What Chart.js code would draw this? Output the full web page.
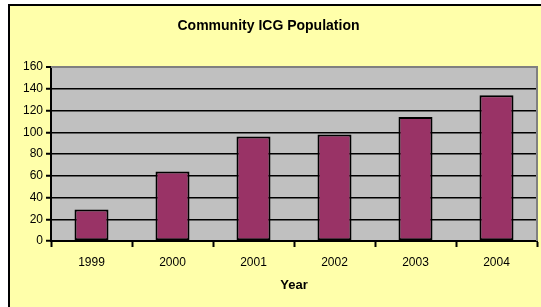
<!DOCTYPE html>
<html>
<head>
<meta charset="utf-8">
<script src="https://cdn.jsdelivr.net/npm/chart.js@4"></script>
<style>
  html, body { margin: 0; padding: 0; background: #fff; }
  #marco {
    position: absolute; left: 8px; top: 4px; width: 540px; height: 310px;
    background: #FFFFAA; border-left: 2px solid #000; border-top: 2px solid #000;
  }
  #wrap { position: absolute; left: 0; top: 0; width: 541px; height: 307px; }
</style>
</head>
<body>
<div id="marco"></div>
<div id="wrap"><canvas id="grafico" width="541" height="307"></canvas></div>
<script>
// Datos
const years = ['1999', '2000', '2001', '2002', '2003', '2004'];
const population = [29, 64, 96, 98, 114, 134];
const yTicks = [0, 20, 40, 60, 80, 100, 120, 140, 160];

// fondo gris del area de trazado + borde gris arriba/derecha
const plotArea = {
    id: 'plotArea',
    beforeDraw(chart) {
        const { ctx, chartArea: a } = chart;
        ctx.save();
        ctx.fillStyle = '#C0C0C0';
        ctx.fillRect(a.left, a.top, a.right - a.left, a.bottom - a.top);
        ctx.restore();
    },
    afterDatasetsDraw(chart) {
        const { ctx, chartArea: a } = chart;
        ctx.save();
        ctx.strokeStyle = '#808080';
        ctx.lineWidth = 2;
        ctx.beginPath();
        ctx.moveTo(a.left, a.top);
        ctx.lineTo(a.right, a.top);
        ctx.lineTo(a.right, a.bottom);
        ctx.stroke();
        ctx.restore();
    }
};

const ctx = document.getElementById('grafico').getContext('2d');
new Chart(ctx, {
    type: 'bar',
    data: {
        labels: years,
        datasets: [{
            label: 'Population',
            data: population,
            backgroundColor: '#993366',
            borderColor: '#000',
            borderWidth: 2,
            borderSkipped: false,
            barPercentage: 0.42,
            categoryPercentage: 1
        }]
    },
    options: {
        responsive: false,
        animation: false,
        layout: { padding: { left: 0, right: 4, top: 0, bottom: 0 } },
        plugins: {
            legend: { display: false },
            tooltip: { enabled: false },
            title: {
                display: true,
                text: 'Community ICG Population',
                color: '#000',
                font: { family: 'Arial, "Liberation Sans"', size: 14, weight: 'bold', lineHeight: 1.2 },
                padding: { top: 17.6, bottom: 32.6 }
            }
        },
        scales: {
            x: {
                afterFit: s => { s.height = 66; },
                grid: { display: true, drawOnChartArea: false, drawTicks: true, tickLength: 6, tickColor: '#000', tickWidth: 2, offset: true },
                border: { display: true, color: '#000', width: 2 },
                ticks: { color: '#000', padding: 8, font: { family: 'Arial, "Liberation Sans"', size: 12 } },
                title: {
                    display: true, text: 'Year', color: '#000',
                    font: { family: 'Arial, "Liberation Sans"', size: 13, weight: 'bold', lineHeight: 1.2 },
                    padding: { top: 0, bottom: 14 }
                }
            },
            y: {
                min: 0, max: 160,
                afterFit: s => { s.width = 51; },
                afterBuildTicks: s => { s.ticks = yTicks.map(v => ({ value: v })); },
                grid: {
                    color: c => (c.tick && c.tick.value === 160) ? '#808080' : '#000',
                    lineWidth: c => (c.tick && c.tick.value === 160) ? 2 : 1.5,
                    tickColor: '#000', tickLength: 5, tickWidth: 2
                },
                border: { display: true, color: '#000', width: 2 },
                ticks: { color: '#000', padding: 3, font: { family: 'Arial, "Liberation Sans"', size: 12 } }
            }
        }
    },
    plugins: [plotArea]
});
</script>
</body>
</html>
